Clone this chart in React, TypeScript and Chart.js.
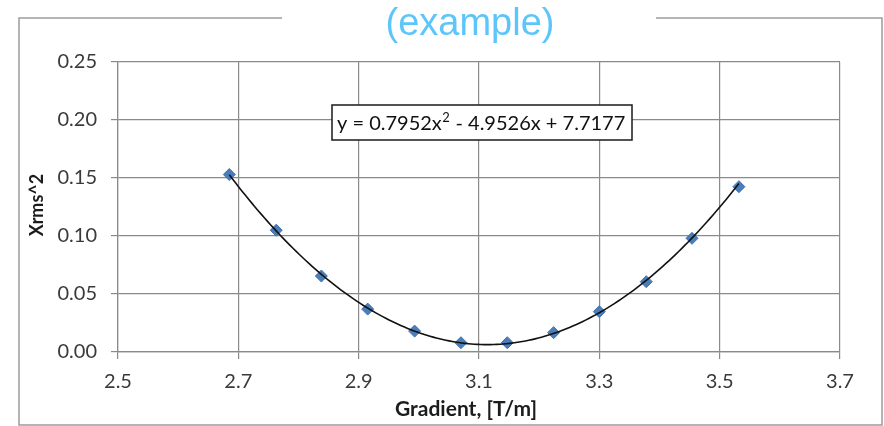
import React, { useEffect, useRef } from "react";
import { Chart, registerables } from "chart.js";

Chart.register(...registerables);

// Measured points: magnet gradient vs. squared RMS size
const gradient = [2.685, 2.763, 2.838, 2.915, 2.993, 3.07, 3.147, 3.224, 3.3, 3.378, 3.454, 3.532];
const xrms2 = [0.153, 0.105, 0.0655, 0.037, 0.018, 0.008, 0.008, 0.0167, 0.0348, 0.0606, 0.098, 0.1425];

// Quadratic trendline coefficients: y = a·x² + b·x + c
const trendCoeffs = [0.7952, -4.9526, 7.7177];

const xTicks = [2.5, 2.7, 2.9, 3.1, 3.3, 3.5, 3.7];
const yTicks = [0, 0.05, 0.1, 0.15, 0.2, 0.25];

const titleText = "(example)";
const xTitle = "Gradient, [T/m]";
const yTitle = "Xrms^2";

const W = 884;
const H = 426;
const FONT = "Lato, 'Open Sans', sans-serif";
const GRID = "#8a8a8a";

function trendValue(x: number): number {
  const [a, b, c] = trendCoeffs;
  return a * x * x + b * x + c;
}

// Sample the fitted curve across the measured range
function trendPoints() {
  const x0 = gradient[0];
  const x1 = gradient[gradient.length - 1];
  const n = 160;
  const pts: { x: number; y: number }[] = [];
  for (let i = 0; i <= n; i++) {
    const x = x0 + ((x1 - x0) * i) / n;
    pts.push({ x, y: trendValue(x) });
  }
  return pts;
}

const decorPlugin = {
  id: "decor",
  beforeDraw(chart: Chart) {
    const ctx = chart.ctx;
    ctx.save();
    ctx.fillStyle = "#ffffff";
    ctx.fillRect(0, 0, W, H);
    // outer frame, open at the top where the heading sits
    ctx.strokeStyle = "#9c9c9c";
    ctx.lineWidth = 1.5;
    ctx.beginPath();
    ctx.moveTo(282, 18);
    ctx.lineTo(19, 18);
    ctx.lineTo(19, 425);
    ctx.lineTo(882, 425);
    ctx.lineTo(882, 18);
    ctx.lineTo(656, 18);
    ctx.stroke();
    ctx.restore();
  },
  afterDraw(chart: Chart) {
    const ctx = chart.ctx;
    ctx.save();

    // heading
    ctx.fillStyle = "#5cc6fb";
    ctx.font = "38px 'Liberation Sans', Arial, sans-serif";
    ctx.textAlign = "center";
    ctx.textBaseline = "alphabetic";
    ctx.fillText(titleText, 470, 35);

    // axis titles
    ctx.fillStyle = "#1c1c1c";
    ctx.font = `bold 21px ${FONT}`;
    ctx.textBaseline = "middle";
    ctx.fillText(xTitle, 466, 409);
    ctx.font = `bold 18px ${FONT}`;
    ctx.save();
    ctx.translate(37, 205);
    ctx.rotate(-Math.PI / 2);
    ctx.fillText(yTitle, 0, 0);
    ctx.restore();

    // trendline equation box
    const [a, b, c] = trendCoeffs;
    const bx = 332, by = 105, bw = 300, bh = 35;
    ctx.fillStyle = "#ffffff";
    ctx.fillRect(bx, by, bw, bh);
    ctx.strokeStyle = "#1a1a1a";
    ctx.lineWidth = 1.5;
    ctx.strokeRect(bx, by, bw, bh);

    const part1 = `y = ${a.toFixed(4)}x`;
    const sup = "2";
    const part2 = ` ${b < 0 ? "-" : "+"} ${Math.abs(b).toFixed(4)}x ${c < 0 ? "-" : "+"} ${Math.abs(c).toFixed(4)}`;
    const base = by + bh / 2 + 7;
    ctx.textAlign = "left";
    ctx.textBaseline = "alphabetic";
    ctx.fillStyle = "#111111";
    ctx.font = `20px ${FONT}`;
    let tx = 337;
    ctx.fillText(part1, tx, base);
    tx += ctx.measureText(part1).width;
    ctx.font = `13px ${FONT}`;
    ctx.fillText(sup, tx + 0.5, base - 8);
    tx += ctx.measureText(sup).width + 1;
    ctx.font = `20px ${FONT}`;
    ctx.fillText(part2, tx, base);

    ctx.restore();
  },
};

export default function App() {
  const ref = useRef<HTMLCanvasElement>(null);

  useEffect(() => {
    const canvas = ref.current;
    if (!canvas) return;
    const chart = new Chart(canvas, {
      type: "scatter",
      data: {
        datasets: [
          {
            label: "Poly. fit",
            data: trendPoints(),
            showLine: true,
            borderColor: "#111111",
            borderWidth: 1.6,
            pointRadius: 0,
            pointHoverRadius: 0,
            tension: 0,
            order: 0,
          },
          {
            label: "Xrms^2",
            data: gradient.map((x, i) => ({ x, y: xrms2[i] })),
            pointStyle: "rectRot",
            pointRadius: 6,
            pointBackgroundColor: "#4a7ebb",
            pointBorderColor: "#3f72b0",
            pointBorderWidth: 1,
            showLine: false,
            order: 1,
          },
        ],
      },
      options: {
        responsive: false,
        animation: false,
        devicePixelRatio: 1,
        layout: { padding: { left: 0, top: 62, right: 44, bottom: 0 } },
        plugins: {
          legend: { display: false },
          tooltip: { enabled: false },
          title: { display: false },
        },
        scales: {
          x: {
            type: "linear",
            min: 2.5,
            max: 3.7,
            afterBuildTicks: (s: any) => {
              s.ticks = xTicks.map((v) => ({ value: v }));
            },
            afterFit: (s: any) => {
              s.height = 74;
            },
            ticks: {
              callback: (v: any) => Number(v).toFixed(1),
              font: { family: FONT, size: 20 },
              color: "#3a3a3a",
              padding: 11,
              maxRotation: 0,
            },
            grid: { color: GRID, lineWidth: 1.2, tickLength: 7, drawTicks: true },
            border: { color: GRID, width: 1.2 },
          },
          y: {
            type: "linear",
            min: 0,
            max: 0.25,
            afterBuildTicks: (s: any) => {
              s.ticks = yTicks.map((v) => ({ value: v }));
            },
            afterFit: (s: any) => {
              s.width = 118;
            },
            ticks: {
              callback: (v: any) => Number(v).toFixed(2),
              font: { family: FONT, size: 20 },
              color: "#3a3a3a",
              padding: 14,
            },
            grid: { color: GRID, lineWidth: 1.2, tickLength: 7, drawTicks: true },
            border: { color: GRID, width: 1.2 },
          },
        },
      },
      plugins: [decorPlugin],
    });
    return () => chart.destroy();
  }, []);

  return (
    <div style={{ position: "fixed", left: 0, top: 0, width: W, height: H, background: "#fff" }}>
      <canvas ref={ref} width={W} height={H} style={{ display: "block", width: W, height: H }} />
    </div>
  );
}
